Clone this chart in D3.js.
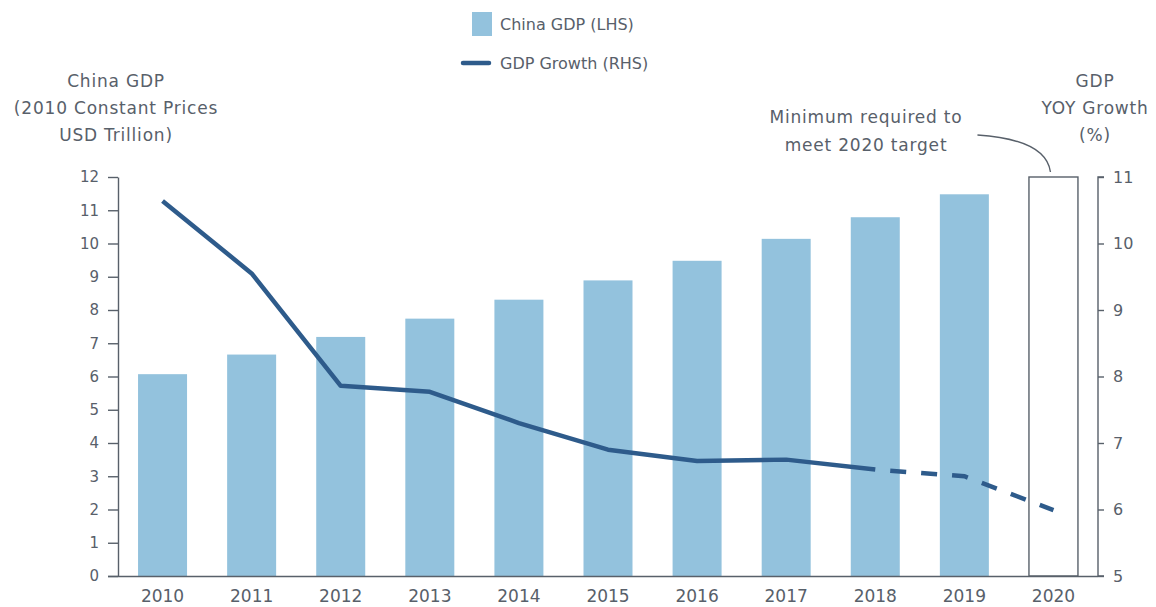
<!DOCTYPE html>
<head>
<meta charset="utf-8">
<script src="https://cdn.jsdelivr.net/npm/d3@7"></script>
<style>
body { margin: 0; background: #fff; }
text { font-family: "DejaVu Sans", Verdana, sans-serif; fill: #58606a; }
.axis path, .axis line { stroke: #58606a; stroke-width: 1.4; }
.axis text { font-size: 15px; }
.title { font-size: 17px; letter-spacing: 0.8px; }
</style>
</head>
<body>
<script>

// data
var years   = ["2010","2011","2012","2013","2014","2015","2016","2017","2018","2019","2020"];
var gdp     = [6.07, 6.66, 7.19, 7.74, 8.31, 8.89, 9.48, 10.14, 10.79, 11.48, 12.0];
var growth  = [10.64, 9.55, 7.86, 7.77, 7.30, 6.90, 6.73, 6.75, 6.60, 6.50, 5.99];
var leftTicks  = [0,1,2,3,4,5,6,7,8,9,10,11,12];
var rightTicks = [5,6,7,8,9,10,11];
var targetYear = "2020";   // drawn as outlined box
var projFrom   = "2018";   // line dashed after this

var width = 1156, height = 607;
var margin = {top: 177, right: 58, bottom: 31, left: 118};

var svg = d3.select("body").append("svg")
    .attr("width", width)
    .attr("height", height);

var x = d3.scaleBand()
    .domain(years)
    .range([margin.left, width - margin.right])
    .paddingInner(0.45)
    .paddingOuter(0.225);

var yL = d3.scaleLinear()
    .domain([0, 12])
    .range([height - margin.bottom, margin.top]);

var yR = d3.scaleLinear()
    .domain([5, 11])
    .range([height - margin.bottom, margin.top]);

// bars
svg.selectAll("rect.bar")
    .data(years)
  .enter().append("rect")
    .attr("class", "bar")
    .attr("x", d => x(d))
    .attr("y", (d, i) => yL(gdp[i]))
    .attr("width", x.bandwidth())
    .attr("height", (d, i) => yL(0) - yL(gdp[i]))
    .style("fill", d => d == targetYear ? "#fff" : "#93c2dd")
    .style("stroke", d => d == targetYear ? "#58606a" : "none")
    .style("stroke-width", 1.4);

// axes
svg.append("g")
    .attr("class", "axis")
    .attr("transform", `translate(0,${height - margin.bottom})`)
    .call(d3.axisBottom(x).tickSize(0).tickPadding(14).tickSizeOuter(0))
    .call(g => g.select(".domain").attr("d", `M${margin.left - 10},0.5H${width - margin.right}`))
    .call(g => g.selectAll("text").style("font-size", "17px"));

svg.append("g")
    .attr("class", "axis")
    .attr("transform", `translate(${margin.left},0)`)
    .call(d3.axisLeft(yL).tickValues(leftTicks).tickSize(10).tickPadding(9).tickSizeOuter(0));

svg.append("g")
    .attr("class", "axis")
    .attr("transform", `translate(${width - margin.right},0)`)
    .call(d3.axisRight(yR).tickValues(rightTicks).tickFormat(d3.format("d"))
        .tickSize(6).tickPadding(9).tickSizeOuter(0))
    .call(g => g.select(".domain").attr("d", `M6,${margin.top}H0V${height - margin.bottom}H6`))
    .call(g => g.selectAll("text").style("font-size", "16px"));

// growth line, solid then dashed
var pts = years.map((d, i) => [x(d) + x.bandwidth() / 2, yR(growth[i])]);
var cut = years.indexOf(projFrom);
var line = d3.line();

svg.append("path")
    .attr("d", line(pts.slice(0, cut + 1)))
    .style("fill", "none")
    .style("stroke", "#2e5b8b")
    .style("stroke-width", 4.5)
    .style("stroke-linejoin", "round");

svg.append("path")
    .attr("d", line(pts.slice(cut)))
    .style("fill", "none")
    .style("stroke", "#2e5b8b")
    .style("stroke-width", 4.5)
    .style("stroke-dasharray", "16 15")
    .style("stroke-dashoffset", 16);

// axis titles
var lt = svg.append("text").attr("class", "title").attr("text-anchor", "middle");
["China GDP", "(2010 Constant Prices", "USD Trillion)"].forEach((t, i) => {
    lt.append("tspan").attr("x", 116).attr("y", 87 + i * 27).text(t);
});
var rt = svg.append("text").attr("class", "title").attr("text-anchor", "middle");
["GDP", "YOY Growth", "(%)"].forEach((t, i) => {
    rt.append("tspan").attr("x", 1095).attr("y", 87 + i * 27).text(t);
});

// annotation
var an = svg.append("text").attr("class", "title").attr("text-anchor", "middle");
["Minimum required to", "meet 2020 target"].forEach((t, i) => {
    an.append("tspan").attr("x", 866).attr("y", 123 + i * 28).text(t);
});
var bx = x(targetYear) + x.bandwidth() / 2;
svg.append("path")
    .attr("d", `M${bx - 76},135 C${bx - 30},138 ${bx - 6},150 ${bx - 3},${margin.top - 5}`)
    .style("fill", "none")
    .style("stroke", "#58606a")
    .style("stroke-width", 1.4);

// legend
var lg = svg.append("g");
lg.append("rect").attr("x", 472).attr("y", 12).attr("width", 20).attr("height", 24).style("fill", "#93c2dd");
lg.append("text").attr("x", 500).attr("y", 30).style("font-size", "16px").text("China GDP (LHS)");
lg.append("line").attr("x1", 463).attr("x2", 489).attr("y1", 63).attr("y2", 63)
    .style("stroke", "#2e5b8b").style("stroke-width", 4.5).style("stroke-linecap", "round");
lg.append("text").attr("x", 500).attr("y", 69).style("font-size", "16px").text("GDP Growth (RHS)");

</script>
</body>
</html>
